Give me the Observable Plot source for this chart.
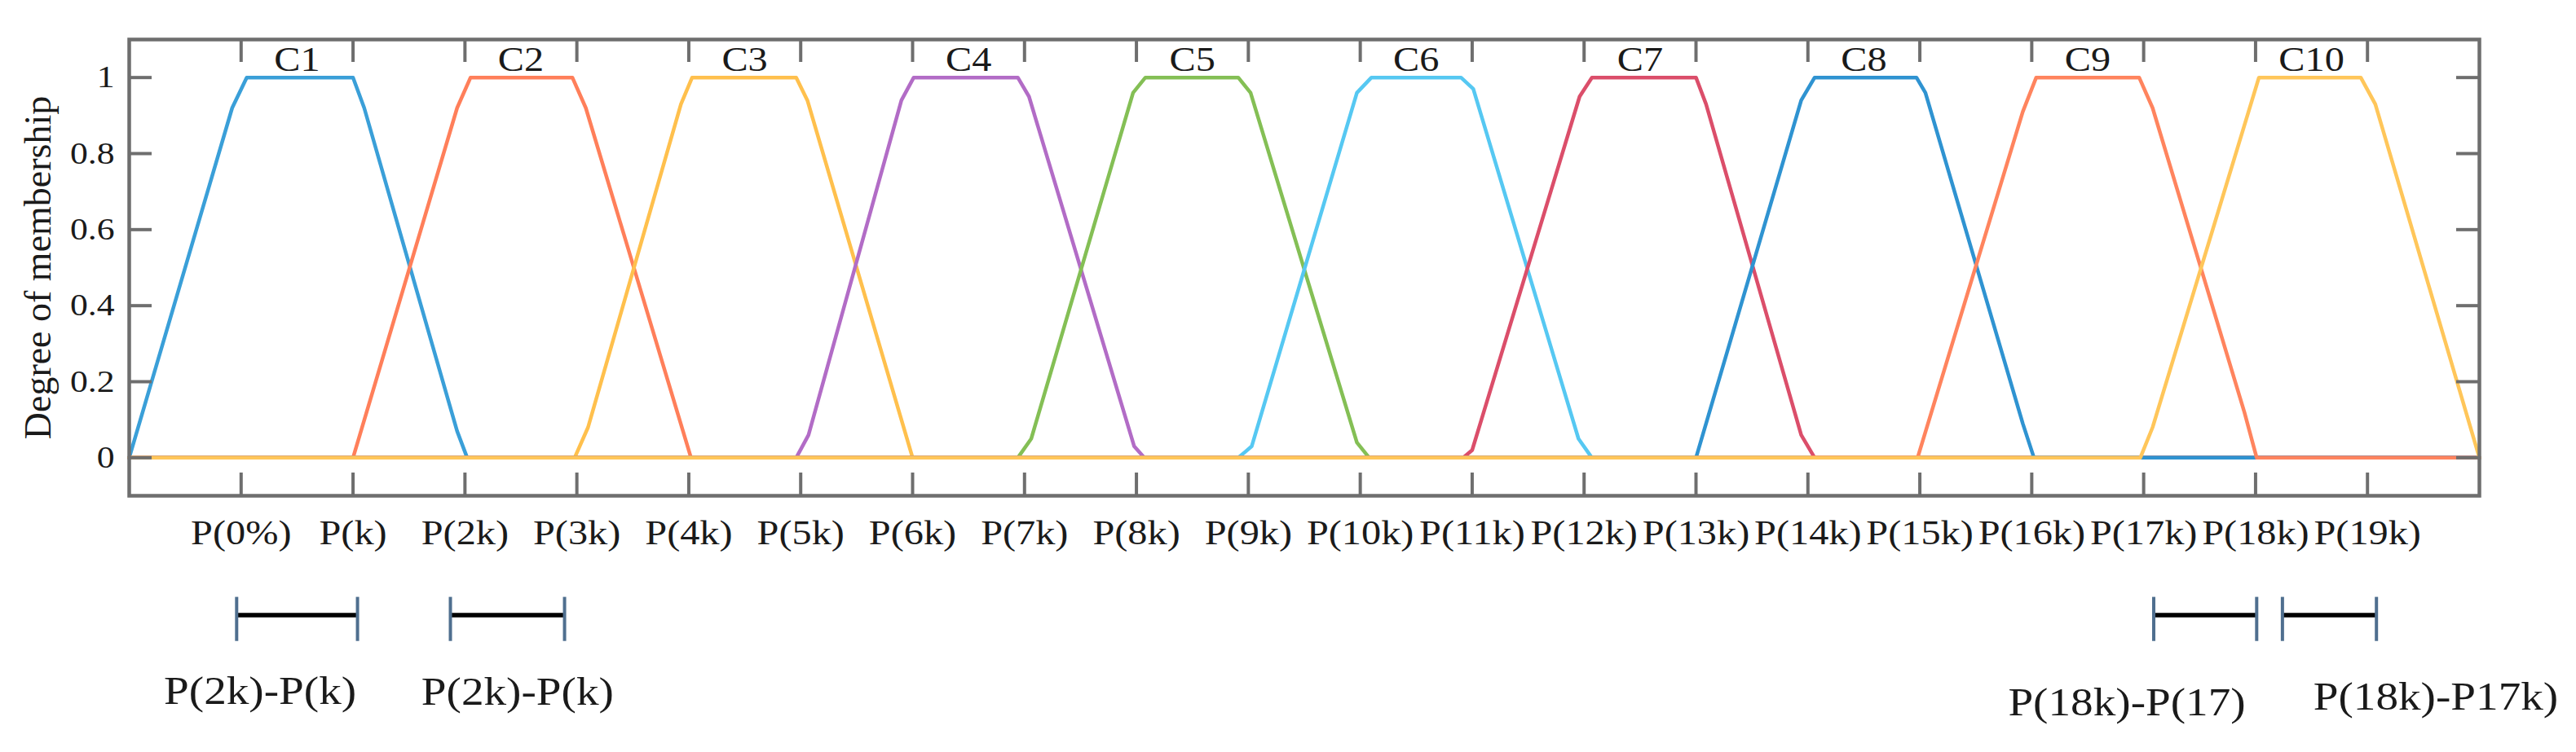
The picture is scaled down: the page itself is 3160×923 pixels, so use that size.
<!DOCTYPE html>
<html>
<head>
<meta charset="utf-8">
<script src="https://cdn.jsdelivr.net/npm/d3@7"></script>
<script src="https://cdn.jsdelivr.net/npm/@observablehq/plot@0.6"></script>
<style>
  html, body { margin: 0; padding: 0; background: #ffffff; }
  svg { display: block; }
</style>
</head>
<body>
<div id="chart"></div>
<script>
// ---- data ----
const seriesNames = ["C1","C2","C3","C4","C5","C6","C7","C8","C9","C10"];
const seriesColors = ["#3a9fd8","#ff7f5a","#ffc04d","#b26cc6","#84bf55","#56c8f2","#db4e6a","#2f93d1","#ff845e","#ffc65a"];

const C1  = [[0,0],[0.92,0.92],[1.05,1],[2,1],[2.1,0.92],[2.93,0.07],[3.02,0],[21,0]];
const C2  = [[0,0],[2,0],[2.93,0.92],[3.05,1],[3.96,1],[4.08,0.92],[5.02,0],[21,0]];
const C3  = [[0,0],[3.98,0],[4.1,0.08],[4.93,0.93],[5.03,1],[5.96,1],[6.06,0.94],[7.0,0],[21,0]];
const C4  = [[0,0],[5.96,0],[6.07,0.06],[6.9,0.94],[7.01,1],[7.94,1],[8.04,0.95],[8.98,0.03],[9.07,0],[21,0]];
const C5  = [[0,0],[7.94,0],[8.06,0.05],[8.97,0.96],[9.08,1],[9.91,1],[10.02,0.96],[10.97,0.04],[11.08,0],[21,0]];
const C6  = [[0,0],[9.91,0],[10.03,0.03],[10.97,0.96],[11.1,1],[11.9,1],[12.01,0.97],[12.95,0.05],[13.07,0],[21,0]];
const C7  = [[0,0],[11.92,0],[12.0,0.02],[12.96,0.95],[13.07,1],[14.0,1],[14.09,0.93],[14.94,0.06],[15.06,0],[21,0]];
const C8  = [[0,0],[14.0,0],[14.94,0.94],[15.06,1],[15.97,1],[16.05,0.96],[16.92,0.09],[17.02,0],[21,0]];
const C9  = [[0,0],[15.98,0],[16.92,0.91],[17.04,1],[17.96,1],[18.08,0.92],[18.9,0.12],[19.01,0],[21,0]];
const C10 = [[0,0],[17.97,0],[18.08,0.08],[19.03,1],[19.94,1],[20.07,0.93],[21,0]];
const seriesPoints = [C1,C2,C3,C4,C5,C6,C7,C8,C9,C10];

const seriesLabelX = [1.5,3.5,5.5,7.5,9.5,11.5,13.5,15.5,17.5,19.5];
const seriesLabelY = 1.047;

const xTicks = [1,2,3,4,5,6,7,8,9,10,11,12,13,14,15,16,17,18,19,20];
const xTickLabels = ["P(0%)","P(k)","P(2k)","P(3k)","P(4k)","P(5k)","P(6k)","P(7k)","P(8k)","P(9k)",
  "P(10k)","P(11k)","P(12k)","P(13k)","P(14k)","P(15k)","P(16k)","P(17k)","P(18k)","P(19k)"];
const yTicks = [0,0.2,0.4,0.6,0.8,1];
const yLabel = "Degree of membership";

// interval annotations below the axis
const spanStart = [0.96, 2.87, 18.09, 19.24];
const spanEnd   = [2.04, 3.89, 19.01, 20.08];
const spanY = -0.414;
const capY1 = -0.367, capY2 = -0.483;
const spanLabels = ["P(2k)-P(k)","P(2k)-P(k)","P(18k)-P(17)","P(18k)-P17k)"];
const spanLabelX = [1.17, 3.47, 17.85, 20.61];
const spanLabelY = [-0.614, -0.616, -0.645, -0.63];

// ---- build tables ----
const lineRows = [];
seriesPoints.forEach((pts, i) => pts.forEach(([x, y]) => lineRows.push({name: seriesNames[i], color: seriesColors[i], x, y})));
const spans = spanStart.map((s, i) => ({x1: s, x2: spanEnd[i]}));
const caps = spanStart.flatMap((s, i) => [s, spanEnd[i]]);
const spanText = spanLabels.map((t, i) => ({t, x: spanLabelX[i], y: spanLabelY[i]}));
const cText = seriesNames.map((n, i) => ({n, x: seriesLabelX[i]}));

const W = 3160, H = 923;
const mL = 158, mR = 119, mT = 48, mB = 315;
const frameW = W - mL - mR, frameH = H - mT - mB;
const tickLen = 28;
const frameColor = "#6e6e6e";
const textColor = "#1a1a1a";
const textStretch = 1.15;

const chart = Plot.plot({
  width: W,
  height: H,
  marginLeft: mL, marginRight: mR, marginTop: mT, marginBottom: mB,
  style: {fontFamily: "'Liberation Serif', 'Times New Roman', serif", background: "#ffffff", color: textColor},
  x: {domain: [0, 21]},
  y: {domain: [-0.1, 1.1]},
  color: {type: "identity"},
  marks: [
    Plot.line(lineRows, {x: "x", y: "y", z: "name", stroke: "color", strokeWidth: 4.5, strokeLinejoin: "round", strokeLinecap: "round"}),
    // inward ticks
    Plot.ruleX(xTicks, {x: d => d, stroke: frameColor, strokeWidth: 4, insetTop: frameH - tickLen}),
    Plot.ruleX(xTicks, {x: d => d, stroke: frameColor, strokeWidth: 4, insetBottom: frameH - tickLen}),
    Plot.ruleY(yTicks, {y: d => d, stroke: frameColor, strokeWidth: 4, insetRight: frameW - tickLen}),
    Plot.ruleY(yTicks, {y: d => d, stroke: frameColor, strokeWidth: 4, insetLeft: frameW - tickLen}),
    Plot.frame({stroke: frameColor, strokeWidth: 4.5}),
    Plot.axisX(xTicks, {anchor: "bottom", tickSize: 0, tickPadding: 30, fontSize: 42, label: null,
      tickFormat: d => xTickLabels[xTicks.indexOf(d)], fill: textColor}),
    Plot.axisY(yTicks, {anchor: "left", tickSize: 0, tickPadding: 18, fontSize: 38, label: null,
      tickFormat: d => String(d), fill: textColor}),
    Plot.text([yLabel], {frameAnchor: "left", textAnchor: "middle", lineAnchor: "middle", text: d => d, rotate: -90, dx: -111, fontSize: 46, fill: textColor}),
    Plot.text(cText, {x: "x", y: () => seriesLabelY, text: "n", fontSize: 42, fill: textColor}),
    // annotations
    Plot.ruleY(spans, {x1: "x1", x2: "x2", y: () => spanY, stroke: "#000000", strokeWidth: 5.5}),
    Plot.ruleX(caps, {x: d => d, y1: () => capY1, y2: () => capY2, stroke: "#4f6f8f", strokeWidth: 4}),
    Plot.text(spanText, {x: "x", y: "y", text: "t", fontSize: 48, fill: textColor})
  ]
});

// the reference's lettering is slightly wide: stretch each horizontal label about its anchor
chart.querySelectorAll("text").forEach(t => {
  const tr = t.getAttribute("transform");
  if (tr && tr.includes("rotate")) return;
  if (tr) {
    t.setAttribute("transform", tr + ` scale(${textStretch},1)`);
  } else {
    const x = +(t.getAttribute("x") || 0);
    t.setAttribute("transform", `translate(${x},0) scale(${textStretch},1) translate(${-x},0)`);
  }
});
document.getElementById("chart").appendChild(chart);
</script>
</body>
</html>
